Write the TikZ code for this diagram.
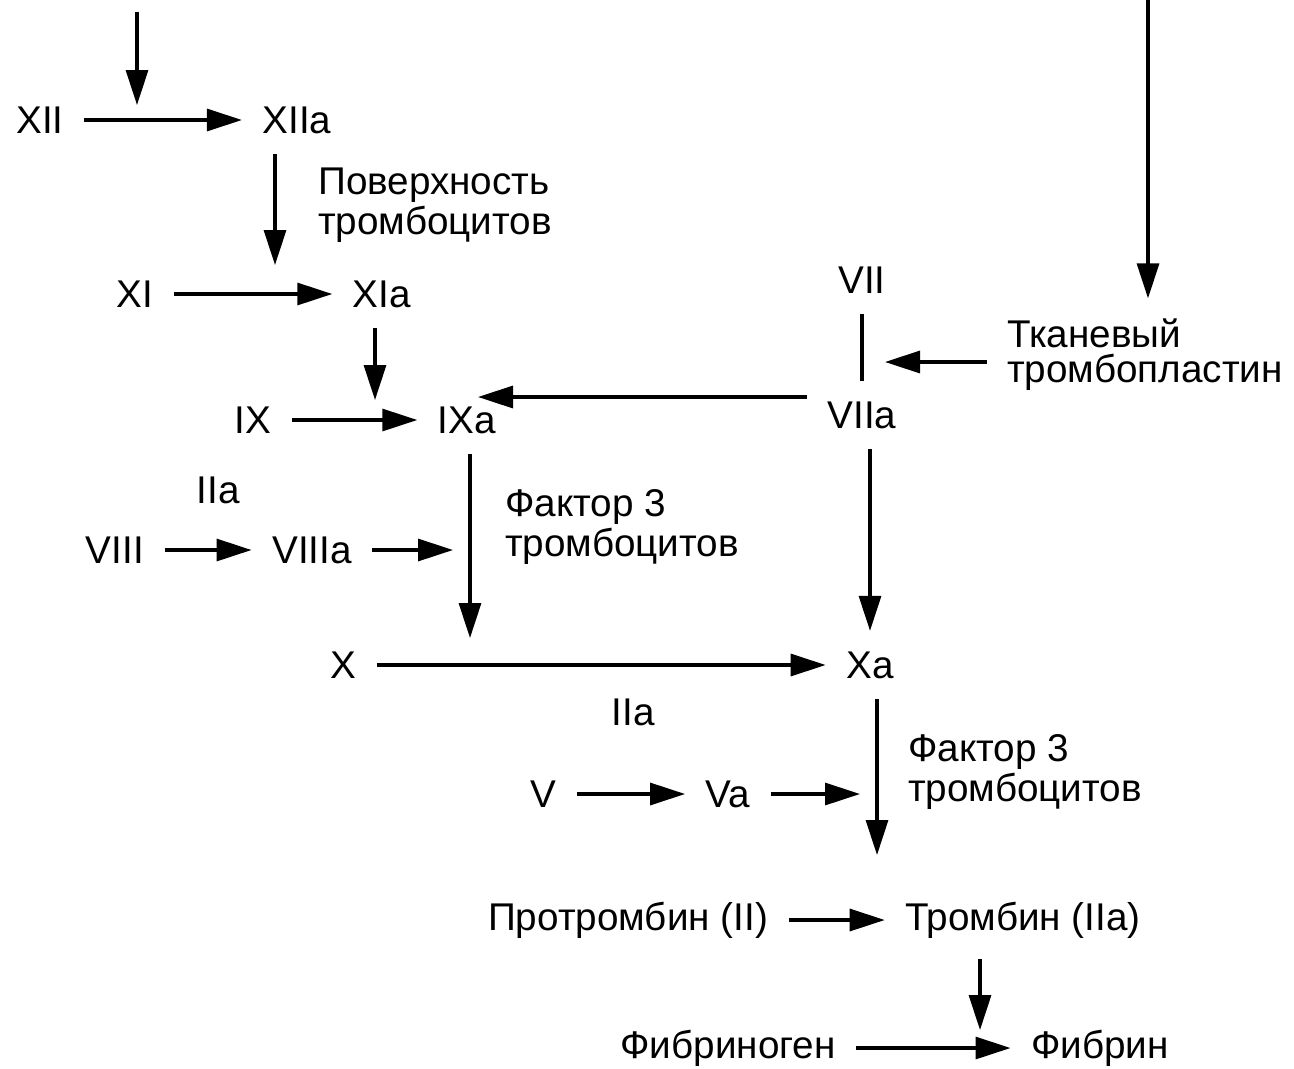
\documentclass[tikz,border=0pt]{standalone}
\usepackage{fontspec}
\setmainfont{Liberation Sans}
\usetikzlibrary{arrows.meta}
\tikzset{
    arr/.style={line width=0.9pt, -{Triangle[length=3.5mm,width=2.2mm]}},
    fac/.style={inner sep=2mm, font=\fontsize{11pt}{10pt}\selectfont},
    note/.style={fac, align=left}
}
\begin{document}
\begin{tikzpicture}
            \useasboundingbox (0,0) rectangle (12.94,-10.68);
            \node[fac] (XII) at (0.40,-1.20) {XII};
            \node[fac] (XIIa) at (2.97,-1.20) {XIIa};
            \node[fac] (XI) at (1.35,-2.94) {XI};
            \node[fac] (XIa) at (3.82,-2.94) {XIa};
            \node[fac] (IX) at (2.53,-4.20) {IX};
            \node[fac] (IXa) at (4.67,-4.20) {IXa};
            \node[fac] (VII) at (8.62,-2.80) {VII};
            \node[fac] (VIIa) at (8.62,-4.15) {VIIa};
            \node[note] (tissue) at (11.45,-3.55) {Тканевый\\тромбопластин};
            \node[fac] (IIa-1) at (2.18,-4.90) {IIa};
            \node[fac] (VIII) at (1.15,-5.50) {VIII};
            \node[fac] (VIIIa) at (3.12,-5.50) {VIIIa};
            \node[note] (surface) at (4.35,-2.05) {Поверхность\\тромбоцитов};
            \node[note] (factor-1) at (6.22,-5.27) {Фактор 3\\тромбоцитов};
            \node[fac] (X) at (3.43,-6.65) {X};
            \node[fac] (Xa) at (8.70,-6.65) {Xa};
            \node[fac] (IIa-2) at (6.33,-7.12) {IIa};
            \node[fac] (V) at (5.43,-7.94) {V};
            \node[fac] (Va) at (7.28,-7.94) {Va};
            \node[note] (factor-2) at (10.25,-7.72) {Фактор 3\\тромбоцитов};
            \node[fac] (prothrombin) at (6.28,-9.20) {Протромбин (II)};
            \node[fac] (thrombin) at (10.23,-9.20) {Тромбин (IIa)};
            \node[fac] (fibrinogen) at (7.28,-10.48) {Фибриноген};
            \node[fac] (fibrin) at (11.00,-10.48) {Фибрин};
            % free ends
            \coordinate (in-xii) at (1.37,-0.12);
            \coordinate (xii-hit) at (1.37,-1.05);
            \coordinate (xi-hit) at (2.75,-2.65);
            \coordinate (ix-hit) at (3.75,-4.00);
            \coordinate (in-tissue) at (11.48,0);
            \coordinate (vii-hit) at (8.85,-3.62);
            \coordinate (ixa-hit) at (4.78,-3.97);
            \coordinate (x-hit) at (4.53,-5.50);
            \coordinate (x-line-hit) at (4.70,-6.38);
            \coordinate (ii-hit) at (8.77,-8.55);
            \coordinate (va-hit) at (8.60,-7.94);
            \coordinate (fib-hit) at (9.80,-10.30);
            % intrinsic
            \draw[arr] (in-xii) -- (xii-hit);
            \draw[arr] (XII) -- (XIIa);
            \draw[arr] (XIIa.south -| xi-hit) -- (xi-hit);
            \draw[arr] (XI) -- (XIa);
            \draw[arr] (XIa.south -| ix-hit) -- (ix-hit);
            \draw[arr] (IX) -- (IXa);
            \draw[arr] (VIII) -- (VIIIa);
            \draw[arr] (VIIIa) -- (x-hit);
            \draw[arr] (IXa.south -| x-line-hit) -- (x-line-hit);
            % extrinsic
            \draw[arr] (in-tissue) -- (in-tissue |- tissue.north);
            \draw[line width=0.9pt] (VII) -- (VIIa);
            \draw[arr] (tissue.west |- vii-hit) -- (vii-hit);
            \draw[arr] (VIIa.west |- ixa-hit) -- (ixa-hit);
            \draw[arr] (VIIa.south -| Xa.north) -- (Xa.north);
            % common
            \draw[arr] (X) -- (Xa);
            \draw[arr] (V) -- (Va);
            \draw[arr] (Va) -- (va-hit);
            \draw[arr] (Xa.south -| ii-hit) -- (ii-hit);
            \draw[arr] (prothrombin) -- (thrombin);
            \draw[arr] (thrombin.south -| fib-hit) -- (fib-hit);
            \draw[arr] (fibrinogen) -- (fibrin);
        \end{tikzpicture}
\end{document}
